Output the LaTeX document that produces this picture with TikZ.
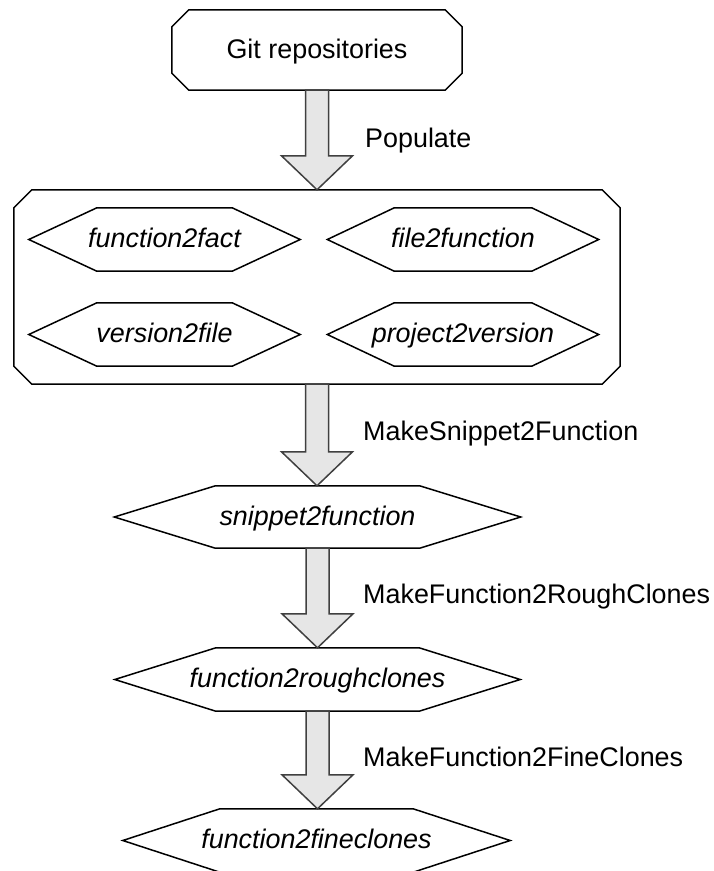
\documentclass[tikz,border=0pt]{standalone}
\usepackage{fontspec}
\setmainfont{Liberation Sans}
\usetikzlibrary{calc}
\definecolor{arrfill}{HTML}{E6E6E6}
\definecolor{arrline}{HTML}{404040}
\newcommand{\chbox}[2]{%
  \draw[boxline] ([xshift=#2pt]#1.north west) -- ([xshift=-#2pt]#1.north east)
    -- ([yshift=-#2pt]#1.north east) -- ([yshift=#2pt]#1.south east)
    -- ([xshift=-#2pt]#1.south east) -- ([xshift=#2pt]#1.south west)
    -- ([yshift=#2pt]#1.south west) -- ([yshift=-#2pt]#1.north west) -- cycle;}
\newcommand{\hexo}[2]{%
  \draw[boxline] (#1.north west) -- (#1.north east) -- ([xshift=#2pt]#1.east)
    -- (#1.south east) -- (#1.south west) -- ([xshift=-#2pt]#1.west) -- cycle;}
\newcommand{\blockarr}[2]{%
  \path[blockarrow] let \p1=(#1.south), \p2=(#2.north) in
    (\x1-11.5pt,\y1) -- (\x1-11.5pt,\y2+34pt) -- (\x1-35.5pt,\y2+34pt) -- (\x1,\y2)
    -- (\x1+35.5pt,\y2+34pt) -- (\x1+11.5pt,\y2+34pt) -- (\x1+11.5pt,\y1) -- cycle;}
\newcommand{\zb}[1]{\makebox[0pt]{#1}}
\begin{document}
\begin{tikzpicture}[x=1pt,y=-1pt,
  every node/.style={font=\fontsize{26.9}{30}\selectfont},
  boxline/.style={draw=black,line width=1.5pt,line join=miter},
  blockarrow/.style={draw=arrline,fill=arrfill,line width=1.5pt,line join=miter},
  chnode/.style={inner sep=0pt,text height=21pt,text depth=5pt},
  hexnode/.style={inner sep=0pt,minimum height=63pt,text height=21pt,text depth=5pt,
    font=\fontsize{26.9}{30}\selectfont\itshape},
  lbl/.style={anchor=base west,inner sep=0pt}]
\useasboundingbox (0,0) rectangle (714,871);
% nodes
\node[chnode,minimum width=290pt,minimum height=80pt] (git) at (317,50) {\zb{Git repositories}};
\node[chnode,minimum width=606pt,minimum height=194pt] (cont) at (317,287) {};
\node[hexnode,minimum width=135pt] (f2fact) at (164.5,239.5) {\zb{function2fact}};
\node[hexnode,minimum width=137pt] (file2fn) at (463,239.5) {\zb{file2function}};
\node[hexnode,minimum width=135pt] (v2file) at (164.5,334.5) {\zb{version2file}};
\node[hexnode,minimum width=137pt] (p2v) at (463,334.5) {\zb{project2version}};
\node[hexnode,minimum width=204pt,minimum height=62pt] (snip) at (317.5,517) {\zb{snippet2function}};
\node[hexnode,minimum width=203pt] (rough) at (317.5,679.5) {\zb{function2roughclones}};
\node[hexnode,minimum width=193pt] (fine) at (316.5,840.5) {\zb{function2fineclones}};
% outlines
\chbox{git}{17}
\chbox{cont}{18}
\hexo{f2fact}{68}
\hexo{file2fn}{67}
\hexo{v2file}{68}
\hexo{p2v}{67}
\hexo{snip}{101}
\hexo{rough}{101}
\hexo{fine}{97}
% block arrows
\blockarr{git}{cont}
\blockarr{cont}{snip}
\blockarr{snip}{rough}
\blockarr{rough}{fine}
% labels
\node[lbl] (l1) at (365,147) {Populate};
\node[lbl] (l2) at (363,440) {MakeSnippet2Function};
\node[lbl] (l3) at (363,603) {MakeFunction2RoughClones};
\node[lbl] (l4) at (363,766) {MakeFunction2FineClones};
\end{tikzpicture}
\end{document}
